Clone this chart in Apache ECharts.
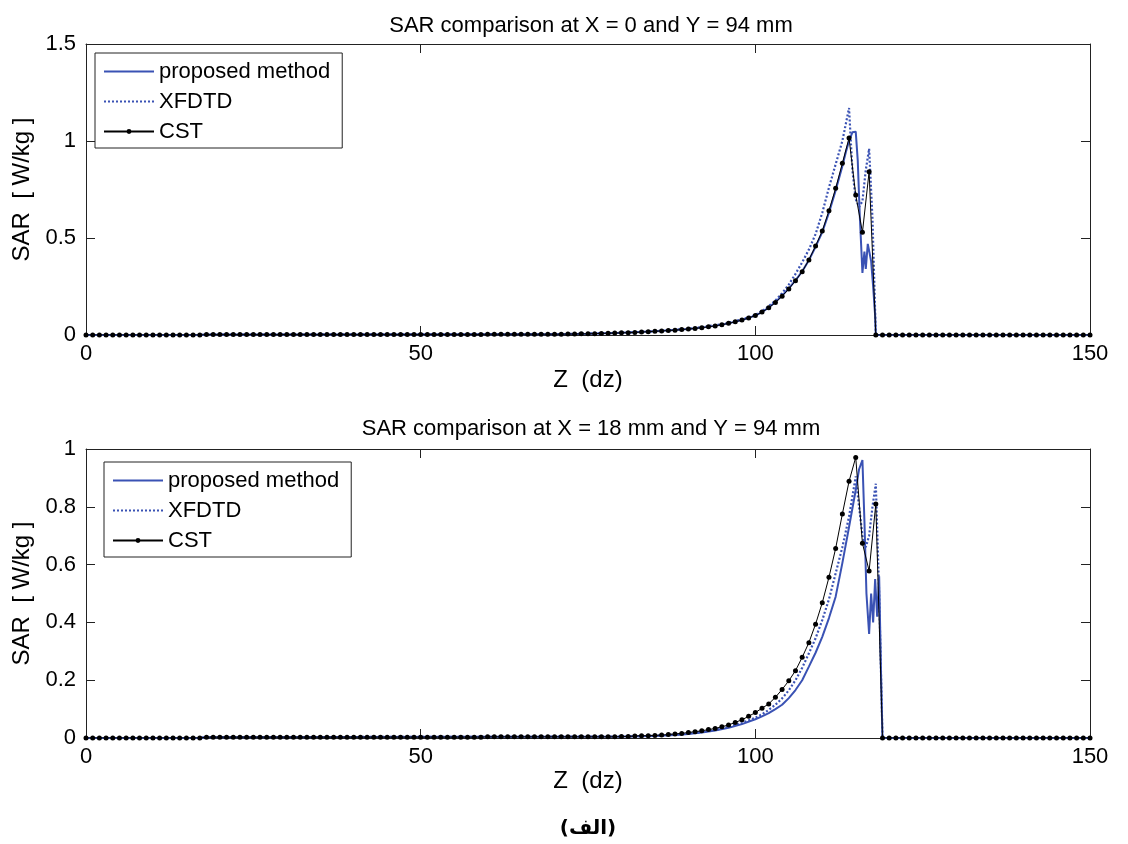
<!DOCTYPE html>
<html>
<head>
<meta charset="utf-8">
<script src="https://cdn.jsdelivr.net/npm/echarts@6/dist/echarts.min.js"></script>
<style>
html,body{margin:0;padding:0;background:#fff;}
#chart{width:1128px;height:844px;}
</style>
</head>
<body>
<div id="chart"></div>
<script>
// ---------- DATA ----------
const titleTop = 'SAR comparison at X = 0 and Y = 94 mm';
const titleBottom = 'SAR comparison at X = 18 mm and Y = 94 mm';
const seriesNames = ['proposed method', 'XFDTD', 'CST'];
const xTicks = [0, 50, 100, 150];
const yTicksTop = [0, 0.5, 1, 1.5];
const yTicksBottom = [0, 0.2, 0.4, 0.6, 0.8, 1];
const caption = '(الف)';

// CST values at z = 0,1,2,...,150 (dz)
const cstTop = [
 0,0,0,0,0,0,0,0,0,0,
 0,0,0,0,0,0,0,0,0.002,0.002,
 0.002,0.002,0.002,0.002,0.002,0.002,0.002,0.002,0.002,0.002,
 0.003,0.003,0.003,0.003,0.003,0.003,0.003,0.003,0.003,0.003,
 0.003,0.003,0.003,0.003,0.003,0.003,0.003,0.003,0.003,0.003,
 0.003,0.003,0.003,0.003,0.003,0.003,0.003,0.003,0.003,0.003,
 0.004,0.004,0.004,0.004,0.004,0.004,0.004,0.004,0.004,0.004,
 0.004,0.004,0.005,0.005,0.006,0.006,0.007,0.008,0.009,0.010,
 0.011,0.012,0.013,0.015,0.017,0.019,0.021,0.023,0.025,0.028,
 0.031,0.034,0.038,0.042,0.047,0.053,0.060,0.068,0.077,0.088,
 0.100,0.118,0.140,0.167,0.200,0.237,0.280,0.326,0.387,0.459,
 0.536,0.641,0.756,0.885,1.015,0.722,0.529,0.842,0,0,
 0,0,0,0,0,0,0,0,0,0,
 0,0,0,0,0,0,0,0,0,0,
 0,0,0,0,0,0,0,0,0,0,
 0
];
const cstBottom = [
 0,0,0,0,0,0,0,0,0,0,
 0,0,0,0,0,0,0,0,0.003,0.003,
 0.003,0.003,0.003,0.003,0.003,0.003,0.003,0.003,0.003,0.003,
 0.003,0.003,0.003,0.003,0.003,0.003,0.003,0.003,0.003,0.003,
 0.003,0.003,0.003,0.003,0.003,0.003,0.003,0.003,0.003,0.003,
 0.003,0.003,0.003,0.003,0.003,0.003,0.003,0.003,0.003,0.003,
 0.004,0.004,0.004,0.004,0.004,0.004,0.004,0.004,0.004,0.004,
 0.004,0.004,0.004,0.004,0.004,0.004,0.004,0.004,0.004,0.004,
 0.005,0.005,0.007,0.008,0.008,0.009,0.010,0.012,0.014,0.016,
 0.019,0.022,0.025,0.029,0.033,0.039,0.045,0.054,0.063,0.075,
 0.088,0.103,0.118,0.141,0.168,0.198,0.233,0.279,0.330,0.394,
 0.468,0.556,0.656,0.775,0.888,0.971,0.674,0.578,0.810,0,
 0,0,0,0,0,0,0,0,0,0,
 0,0,0,0,0,0,0,0,0,0,
 0,0,0,0,0,0,0,0,0,0,
 0
];

// proposed method (top)
const propTopZ = [0,17,18,40,60,70,75,80,85,90,92,94,96,98,100,101,102,103,104,105,106,107,108,109,110,111,112,113,113.5,114,114.5,115,115.3,115.6,116,116.3,116.5,116.8,117,117.3,117.6,117.9,118,150];
const propTopV = [0,0,0.002,0.003,0.004,0.004,0.006,0.011,0.019,0.031,0.038,0.047,0.060,0.077,0.100,0.118,0.142,0.170,0.203,0.240,0.282,0.328,0.385,0.455,0.530,0.630,0.745,0.870,0.940,1.000,1.045,1.048,0.900,0.620,0.320,0.430,0.340,0.470,0.460,0.380,0.250,0.100,0,0];
// XFDTD (top)
const xfdTopZ = [0,17,18,40,60,70,80,85,90,95,98,100,101,102,103,104,105,106,107,108,109,110,111,112,113,114,114.5,115,115.5,116,116.5,117,117.5,118,150];
const xfdTopV = [0,0,0.002,0.003,0.004,0.004,0.011,0.019,0.032,0.055,0.080,0.103,0.123,0.148,0.178,0.215,0.260,0.315,0.375,0.440,0.520,0.630,0.760,0.880,1.000,1.170,0.850,0.700,0.660,0.690,0.850,0.960,0.600,0,0];
// proposed method (bottom)
const propBotZ = [0,17,18,60,80,85,88,90,92,94,96,98,100,101,102,103,104,105,106,107,108,109,110,111,112,113,114,115,115.5,116,116.3,116.6,117,117.3,117.6,117.9,118.2,118.5,118.8,119,150];
const propBotV = [0,0,0.003,0.004,0.005,0.007,0.010,0.014,0.019,0.026,0.035,0.048,0.065,0.075,0.086,0.100,0.115,0.138,0.166,0.200,0.247,0.295,0.350,0.415,0.489,0.605,0.730,0.858,0.930,0.962,0.750,0.500,0.360,0.500,0.400,0.550,0.420,0.560,0.200,0,0];
// XFDTD (bottom)
const xfdBotZ = [0,17,18,60,80,85,88,90,92,94,96,98,100,101,102,103,104,105,106,107,108,109,110,111,112,113,114,115,115.5,116,116.5,117,117.5,118,118.5,119,150];
const xfdBotV = [0,0,0.003,0.004,0.005,0.008,0.012,0.016,0.021,0.028,0.038,0.052,0.070,0.082,0.097,0.115,0.137,0.165,0.200,0.243,0.293,0.345,0.408,0.480,0.570,0.660,0.766,0.905,0.800,0.700,0.660,0.700,0.800,0.880,0.500,0,0];

// ---------- CHART ----------
const BLUE = '#3a52b4';
const FONT = '"Liberation Sans", Arial, sans-serif';
const pairs = (zs, vs) => zs.map((z, i) => [z, vs[i]]);
const idxPairs = vs => vs.map((v, i) => [i, v]);

function xAxisFor(grid, top) {
  return {
    type: 'value', gridIndex: grid, position: top ? 'top' : 'bottom',
    min: xTicks[0], max: xTicks[xTicks.length - 1], interval: xTicks[1] - xTicks[0],
    name: top ? '' : 'Z  (dz)', nameLocation: 'middle', nameGap: grid === 0 ? 33 : 31,
    nameTextStyle: { fontFamily: FONT, fontSize: 24, color: '#000' },
    axisLine: { show: true, onZero: false, lineStyle: { color: '#222', width: 1 } },
    axisTick: { show: true, inside: true, length: 9, lineStyle: { color: '#222' } },
    axisLabel: { show: !top, margin: 8, fontFamily: FONT, fontSize: 22, color: '#000' },
    splitLine: { show: false }
  };
}
function yAxisFor(grid, right, ticks) {
  return {
    type: 'value', gridIndex: grid, position: right ? 'right' : 'left',
    min: ticks[0], max: ticks[ticks.length - 1], interval: ticks[1] - ticks[0],
    name: right ? '' : 'SAR  [ W/kg ]', nameLocation: 'middle', nameGap: 44,
    nameTextStyle: { fontFamily: FONT, fontSize: 24, color: '#000' },
    axisLine: { show: true, onZero: false, lineStyle: { color: '#222', width: 1 } },
    axisTick: { show: true, inside: true, length: 9, lineStyle: { color: '#222' } },
    axisLabel: { show: !right, margin: 10, fontFamily: FONT, fontSize: 22, color: '#000' },
    splitLine: { show: false }
  };
}
function legendFor(left, top) {
  const hidden = { color: 'rgba(0,0,0,0)', borderWidth: 0, opacity: 0 };
  return {
    data: [
      { name: seriesNames[0], itemStyle: hidden },
      { name: seriesNames[1], itemStyle: hidden },
      { name: seriesNames[2] }
    ],
    orient: 'vertical', left: left, top: top,
    itemWidth: 50, itemHeight: 6, itemGap: 7, padding: [7, 12, 5, 8],
    borderColor: '#222', borderWidth: 1, backgroundColor: '#fff',
    textStyle: { fontFamily: FONT, fontSize: 22, color: '#000', lineHeight: 23 },
    selectedMode: false
  };
}
function seriesFor(grid, prop, xfd, cst) {
  return [
    { name: seriesNames[0], type: 'line', xAxisIndex: grid, yAxisIndex: grid, data: prop,
      symbol: 'none', lineStyle: { color: BLUE, width: 2 }, itemStyle: { color: BLUE }, z: 3 },
    { name: seriesNames[1], type: 'line', xAxisIndex: grid, yAxisIndex: grid, data: xfd,
      symbol: 'none', lineStyle: { color: BLUE, width: 2.2, type: [2, 2] }, itemStyle: { color: BLUE }, z: 4 },
    { name: seriesNames[2], type: 'line', xAxisIndex: grid, yAxisIndex: grid, data: cst,
      symbol: 'circle', symbolSize: 5, showAllSymbol: true,
      lineStyle: { color: '#000', width: 1 }, itemStyle: { color: '#000' }, z: 5 }
  ];
}

const chart = echarts.init(document.getElementById('chart'), null, { renderer: 'canvas' });
chart.setOption({
  animation: false,
  backgroundColor: '#fff',
  title: [
    { text: titleTop, left: 586, top: 10, textAlign: 'center',
      textStyle: { fontFamily: FONT, fontSize: 22, fontWeight: 'normal', color: '#000' } },
    { text: titleBottom, left: 586, top: 413, textAlign: 'center',
      textStyle: { fontFamily: FONT, fontSize: 22, fontWeight: 'normal', color: '#000' } },
    { text: caption, left: 583, top: 814, textAlign: 'center',
      textStyle: { fontFamily: '"DejaVu Sans", sans-serif', fontSize: 20, fontWeight: 'bold', color: '#000' } }
  ],
  grid: [
    { left: 86, right: 38, top: 44, height: 291 },
    { left: 86, right: 38, top: 449, height: 289 }
  ],
  legend: [legendFor(95, 53), legendFor(104, 462)],
  xAxis: [xAxisFor(0, false), xAxisFor(1, false), xAxisFor(0, true), xAxisFor(1, true)],
  yAxis: [yAxisFor(0, false, yTicksTop), yAxisFor(1, false, yTicksBottom),
          yAxisFor(0, true, yTicksTop), yAxisFor(1, true, yTicksBottom)],
  series: [
    ...seriesFor(0, pairs(propTopZ, propTopV), pairs(xfdTopZ, xfdTopV), idxPairs(cstTop)),
    ...seriesFor(1, pairs(propBotZ, propBotV), pairs(xfdBotZ, xfdBotV), idxPairs(cstBottom))
  ]
});
</script>
</body>
</html>
